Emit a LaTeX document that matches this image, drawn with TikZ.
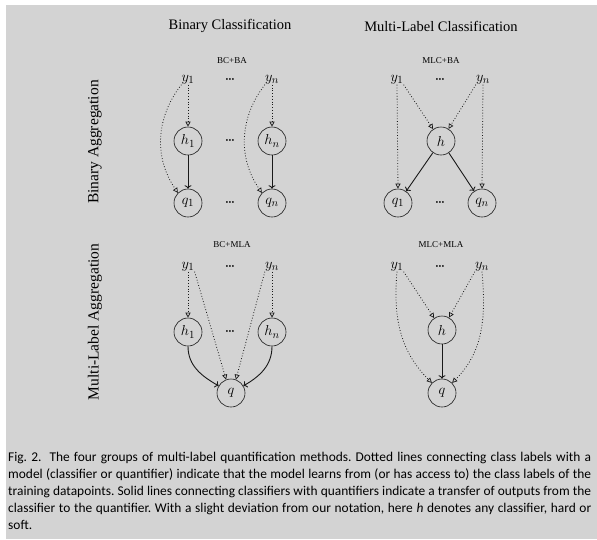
\documentclass[tikz,border=0pt]{standalone}
\usepackage{fontspec}
\setmainfont{Liberation Serif}
\newfontfamily\capfont{Carlito}
\usetikzlibrary{arrows.meta}
\definecolor{bg}{RGB}{211,211,211}
\definecolor{ink}{RGB}{25,25,25}
\newcommand{\mydots}{{\fontsize{12}{14}\selectfont\boldmath${\cdot}\mkern-1mu{\cdot}\mkern-1mu{\cdot}$}}
\begin{document}
\frenchspacing
\begin{tikzpicture}[x=1pt,y=1pt,
  title/.style={inner sep=0pt, font=\fontsize{14.5}{17}\selectfont},
  rowtitle/.style={inner sep=0pt, rotate=90, font=\fontsize{15.5}{18}\selectfont},
  sublab/.style={inner sep=0pt, font=\fontsize{9}{11}\selectfont},
  lab/.style={inner sep=0pt, font=\fontsize{15}{17}\selectfont},
  circ/.style={draw=ink, circle, minimum size=28pt, inner sep=1pt, line width=0.6pt, font=\fontsize{15}{17}\selectfont},
  dotarrow/.style={draw=ink, dotted, line width=0.8pt, -{Triangle[open,length=5pt,width=5pt,line width=0.7pt]}},
  solarrow/.style={draw=ink, line width=0.9pt, -{To[length=3.5pt,width=7pt]}}]
\useasboundingbox (0,0) rectangle (597,-539);
\fill[bg] (6,-5) rectangle (597,-539);
% titles
\node[title] (t1) at (230,-26) {Binary Classification};
\node[title] (t2) at (441,-26) {Multi-Label Classification};
\node[rowtitle] (r1) at (95,-142) {Binary Aggregation};
\node[rowtitle] (r2) at (95,-322) {Multi-Label Aggregation};
\node[sublab] (l1) at (232,-61) {BC+BA};
\node[sublab] (l2) at (441,-61) {MLC+BA};
\node[sublab] (l3) at (232,-245) {BC+MLA};
\node[sublab] (l4) at (441,-245) {MLC+MLA};
% BC+BA
\node[lab] (a-y1) at (188,-80) {$y_1$};
\node[lab] (a-yd) at (230,-80) {\mydots};
\node[lab] (a-yn) at (272,-80) {$y_n$};
\node[circ] (a-h1) at (188,-141) {$h_1$};
\node[lab] (a-hd) at (230,-141) {\mydots};
\node[circ] (a-hn) at (272,-141) {$h_n$};
\node[circ] (a-q1) at (188,-203) {$q_1$};
\node[lab] (a-qd) at (230,-203) {\mydots};
\node[circ] (a-qn) at (272,-203) {$q_n$};
\draw[dotarrow] (a-y1.south) -- (a-h1);
\draw[dotarrow] (a-yn.south) -- (a-hn);
\draw[dotarrow] (a-y1.south west) to[bend right=36] (a-q1.north west);
\draw[dotarrow] (a-yn.south west) to[bend right=36] (a-qn.north west);
\draw[solarrow] (a-h1) -- (a-q1);
\draw[solarrow] (a-hn) -- (a-qn);
% MLC+BA
\node[lab] (b-y1) at (397,-80) {$y_1$};
\node[lab] (b-yd) at (440,-80) {\mydots};
\node[lab] (b-yn) at (483,-80) {$y_n$};
\node[circ] (b-h) at (441,-141) {$h$};
\node[circ] (b-q1) at (398,-203) {$q_1$};
\node[lab] (b-qd) at (440,-203) {\mydots};
\node[circ] (b-qn) at (482,-203) {$q_n$};
\draw[dotarrow] (b-y1.south) -- (b-q1.north);
\draw[dotarrow] (b-yn.south) -- (b-qn.north);
\draw[dotarrow] (b-y1.south east) -- (b-h);
\draw[dotarrow] (b-yn.south west) -- (b-h);
\draw[solarrow] (b-h) -- (b-q1);
\draw[solarrow] (b-h) -- (b-qn);
% BC+MLA
\node[lab] (c-y1) at (188,-267) {$y_1$};
\node[lab] (c-yd) at (230,-267) {\mydots};
\node[lab] (c-yn) at (272,-267) {$y_n$};
\node[circ] (c-h1) at (188,-332) {$h_1$};
\node[lab] (c-hd) at (230,-332) {\mydots};
\node[circ] (c-hn) at (272,-332) {$h_n$};
\node[circ] (c-q) at (231,-393) {$q$};
\draw[dotarrow] (c-y1.south) -- (c-h1);
\draw[dotarrow] (c-yn.south) -- (c-hn);
\draw[dotarrow] (c-y1.south east) -- (c-q.110);
\draw[dotarrow] (c-yn.south west) -- (c-q.70);
\draw[solarrow] (c-h1.south) to[out=-90,in=150] (c-q.150);
\draw[solarrow] (c-hn.south) to[out=-90,in=30] (c-q.30);
% MLC+MLA
\node[lab] (d-y1) at (397,-267) {$y_1$};
\node[lab] (d-yd) at (440,-267) {\mydots};
\node[lab] (d-yn) at (482,-267) {$y_n$};
\node[circ] (d-h) at (442,-330) {$h$};
\node[circ] (d-q) at (442,-393) {$q$};
\draw[dotarrow] (d-y1.south east) -- (d-h);
\draw[dotarrow] (d-yn.south west) -- (d-h);
\draw[solarrow] (d-h) -- (d-q);
\draw[dotarrow] (d-y1.south) to[out=-95,in=135] (d-q.135);
\draw[dotarrow] (d-yn.south) to[out=-85,in=45] (d-q.45);
% caption
\node[anchor=north west, inner sep=0pt, text width=583pt, align=justify,
  font=\capfont\fontsize{13.4}{17}\selectfont] (cap) at (8,-452)
{Fig.~2.\hspace{0.6em}The four groups of multi-label quantification methods. Dotted lines connecting class labels with a\linebreak
model (classifier or quantifier) indicate that the model learns from (or has access to) the class labels of the\linebreak
training datapoints. Solid lines connecting classifiers with quantifiers indicate a transfer of outputs from the\linebreak
classifier to the quantifier. With a slight deviation from our notation, here \textit{h} denotes any classifier, hard or\linebreak
soft.};
\end{tikzpicture}
\end{document}
